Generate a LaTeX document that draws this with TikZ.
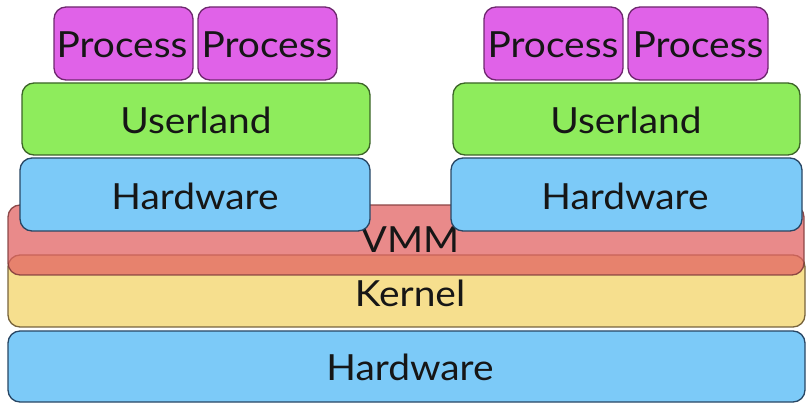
\documentclass[tikz,border=0pt]{standalone}
\usepackage{fontspec}
\setmainfont{Lato}[FakeStretch=1.08]
\definecolor{procfill}{RGB}{224,98,232}
\definecolor{procdraw}{RGB}{110,40,110}
\definecolor{ulfill}{RGB}{142,236,92}
\definecolor{uldraw}{RGB}{60,100,40}
\definecolor{hwfill}{RGB}{124,202,248}
\definecolor{hwdraw}{RGB}{40,70,100}
\definecolor{kfill}{RGB}{246,223,142}
\definecolor{kdraw}{RGB}{120,100,60}
\definecolor{vmmfill}{RGB}{226,99,99}
\definecolor{vmmdraw}{RGB}{130,60,60}
\definecolor{txt}{RGB}{22,22,22}
\begin{document}
\begin{tikzpicture}[x=1pt,y=-1pt,
  layer/.style={rounded corners=12pt, line width=1.3pt},
  procbox/.style={layer, fill=procfill, draw=procdraw},
  ulbox/.style={layer, fill=ulfill, draw=uldraw},
  hwbox/.style={layer, fill=hwfill, draw=hwdraw},
  kbox/.style={layer, fill=kfill, draw=kdraw},
  vmmbox/.style={layer, fill=vmmfill, fill opacity=0.75, draw=vmmdraw, draw opacity=0.9},
  lbl/.style={text=txt, inner sep=0pt, font=\fontsize{36}{42}\selectfont}]
\useasboundingbox (0,0) rectangle (806,403);
% host layers
\draw[hwbox] (8,331) rectangle (805,402);
\path (410,367) node[lbl] (hwhost) {Hardware};
\draw[kbox] (8,255) rectangle (805,327);
\path (410,293) node[lbl] (kernel) {Kernel};
\draw[vmmbox] (8,205) rectangle (804,275);
\path (410,240) node[lbl] (vmm) {VMM};
% guest hardware
\draw[hwbox] (20,158) rectangle (370,231);
\path (195,196) node[lbl] (hwl) {Hardware};
\draw[hwbox] (451,158) rectangle (802,231);
\path (625,196) node[lbl] (hwr) {Hardware};
% userland
\draw[ulbox] (22,83) rectangle (370,155);
\path (196,120) node[lbl] (ull) {Userland};
\draw[ulbox] (453,83) rectangle (800,155);
\path (626,120) node[lbl] (ulr) {Userland};
% processes
\draw[procbox] (54,7) rectangle (193,80);
\path (122,45) node[lbl] (p1) {Process};
\draw[procbox] (198,7) rectangle (337,80);
\path (267,45) node[lbl] (p2) {Process};
\draw[procbox] (484,7) rectangle (623,80);
\path (553,45) node[lbl] (p3) {Process};
\draw[procbox] (628,7) rectangle (768,80);
\path (698,45) node[lbl] (p4) {Process};
\end{tikzpicture}
\end{document}
